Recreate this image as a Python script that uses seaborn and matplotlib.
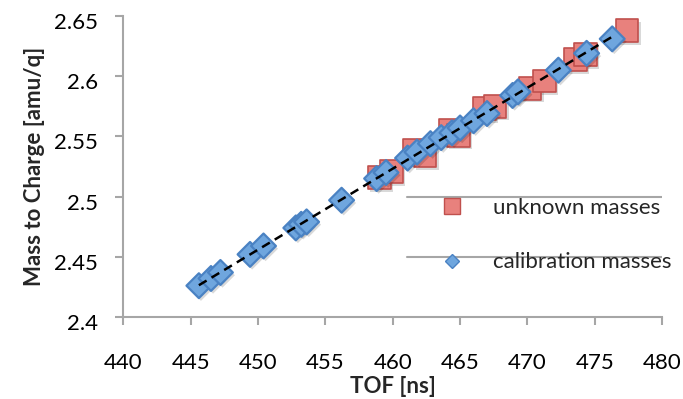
import matplotlib
matplotlib.use("Agg")
import matplotlib.patheffects as pe
import matplotlib.pyplot as plt
import matplotlib.transforms as mtransforms
import pandas as pd
import seaborn as sns
from matplotlib.lines import Line2D

# calibration masses (blue diamonds)
cal_tof = [445.6, 446.5, 447.2, 449.4, 450.4, 452.8, 453.2, 453.6, 456.2, 458.8, 459.5, 461.1,
           461.8, 462.8, 463.6, 464.4, 465.0, 466.0, 467.0, 468.9, 469.3, 472.3, 474.4, 476.3]
cal_mq = [2.426, 2.432, 2.437, 2.452, 2.459, 2.474, 2.477, 2.479, 2.497, 2.515, 2.520, 2.532,
          2.537, 2.544, 2.549, 2.553, 2.557, 2.563, 2.569, 2.584, 2.587, 2.605, 2.619, 2.631]

# unknown masses (red squares)
unk_tof = [459.0, 459.9, 461.6, 462.4, 464.3, 464.9, 466.8, 467.6, 470.2, 471.3, 473.6, 474.3, 477.4]
unk_mq = [2.516, 2.521, 2.538, 2.534, 2.555, 2.551, 2.573, 2.575, 2.590, 2.596, 2.614, 2.618, 2.638]

x_ticks = [440, 445, 450, 455, 460, 465, 470, 475, 480]
y_ticks = [2.4, 2.45, 2.5, 2.55, 2.6, 2.65]
y_tick_labels = ["2.4", "2.45", "2.5", "2.55", "2.6", "2.65"]
legend_grid_levels = [2.5, 2.45]  # the two grey rules that show behind the legend

AXIS_GREY = "#a6a6a6"
RED_FILL, RED_EDGE = "#e8817d", "#c0504d"
BLUE_FILL, BLUE_EDGE = "#6fa6de", "#4a82c3"
FONT_SIZE = 16

sns.set_style("white")
plt.rcParams["font.family"] = ["Lato", "DejaVu Sans"]

fig = plt.figure(figsize=(6.83, 3.99), dpi=100)
ax = fig.add_axes([0.1808, 0.2055, 0.7885, 0.7544])

unknown = pd.DataFrame({"tof": unk_tof, "mq": unk_mq})
calib = pd.DataFrame({"tof": cal_tof, "mq": cal_mq})

for level in legend_grid_levels:
    ax.axhline(level, xmin=0.5265, xmax=1.0, color=AXIS_GREY, lw=1.5, zorder=0)

shadow = [pe.SimplePatchShadow(offset=(1.5, -2), shadow_rgbFace="black", alpha=0.15), pe.Normal()]

sns.scatterplot(data=unknown, x="tof", y="mq", marker="s", s=270, color=RED_FILL,
                edgecolor=RED_EDGE, linewidth=1.2, ax=ax, zorder=2)
sns.scatterplot(data=calib, x="tof", y="mq", marker="D", s=160, color=BLUE_FILL,
                edgecolor=BLUE_EDGE, linewidth=1.6, ax=ax, zorder=3)
for coll in ax.collections:
    coll.set_path_effects(shadow)

# linear fit through the calibration points
sns.regplot(data=calib, x="tof", y="mq", scatter=False, ci=None, ax=ax,
            line_kws=dict(color="black", lw=1.8, ls=(0, (3.6, 2.3)), zorder=4))

ax.set_xlim(440, 480)
ax.set_ylim(2.4, 2.65)
ax.set_xticks(x_ticks)
ax.set_yticks(y_ticks)
ax.set_yticklabels(y_tick_labels)

sns.despine(ax=ax)
for side in ["left", "bottom"]:
    ax.spines[side].set_color(AXIS_GREY)
    ax.spines[side].set_linewidth(1.5)

ax.tick_params(axis="both", which="major", bottom=True, left=True, direction="out",
               length=6, width=1.5, color=AXIS_GREY, labelsize=FONT_SIZE, labelcolor="black")
ax.tick_params(axis="x", pad=20)
ax.tick_params(axis="y", pad=12.5)

# y tick labels sit a little below their ticks in the original
shift = mtransforms.ScaledTranslation(0, -5 / 100, fig.dpi_scale_trans)
for lbl in ax.get_yticklabels():
    lbl.set_transform(lbl.get_transform() + shift)

ax.set_xlabel("TOF [ns]", fontsize=FONT_SIZE, fontweight="bold", labelpad=2)
ax.set_ylabel("Mass to Charge [amu/q]", fontsize=FONT_SIZE, fontweight="bold", labelpad=6)

handles = [
    Line2D([], [], ls="none", marker="s", markersize=11, markerfacecolor=RED_FILL,
           markeredgecolor=RED_EDGE, markeredgewidth=1.0),
    Line2D([], [], ls="none", marker="D", markersize=7.5, markerfacecolor=BLUE_FILL,
           markeredgecolor=BLUE_EDGE, markeredgewidth=1.0),
]
ax.legend(handles, ["unknown masses", "calibration masses"], loc="upper left",
          bbox_to_anchor=(441 / 683, 1 - 198 / 399), bbox_transform=fig.transFigure,
          frameon=False, fontsize=FONT_SIZE, borderpad=0, borderaxespad=0,
          handlelength=1.0, handletextpad=1.34, labelspacing=1.55)

fig.savefig("out.png", dpi=100)
